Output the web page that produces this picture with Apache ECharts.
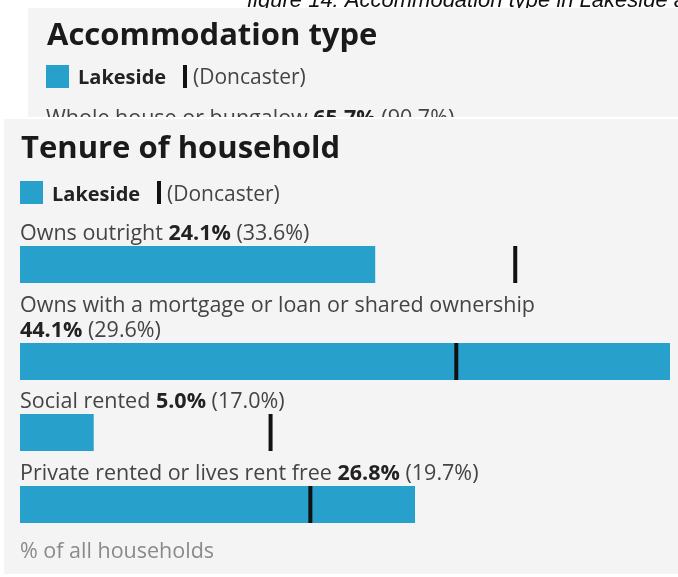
<!DOCTYPE html>
<html>
<head>
<meta charset="utf-8">
<script src="https://cdn.jsdelivr.net/npm/echarts@6/dist/echarts.min.js"></script>
<style>
  html, body { margin: 0; padding: 0; background: #fff; }
  #main { width: 678px; height: 577px; }
</style>
</head>
<body>
<div id="main"></div>
<script>
// data
var categories = ['Owns outright', 'Owns with a mortgage or loan or shared ownership', 'Social rented', 'Private rented or lives rent free'];
var lakeside = [24.1, 44.1, 5.0, 26.8];
var doncaster = [33.6, 29.6, 17.0, 19.7];
var accCategories = ['Whole house or bungalow'];
var accLakeside = [65.7];
var accDoncaster = [90.7];

// layout
var barTops = [246, 343, 414, 486];
var barH = 37;
var blue = '#27a0cc';
var font = '"Open Sans", sans-serif';

var myChart = echarts.init(document.getElementById('main'));

var grids = [], xAxes = [], yAxes = [], series = [], graphics = [];
var xMax = Math.max.apply(null, lakeside);

for (var i = 0; i < categories.length; i++) {
  grids.push({ left: 20, width: 650, top: barTops[i], height: barH });
  xAxes.push({ gridIndex: i, type: 'value', min: 0, max: xMax, show: false });
  yAxes.push({ gridIndex: i, type: 'category', data: [categories[i]], show: false });
  series.push({
    type: 'bar', xAxisIndex: i, yAxisIndex: i,
    data: [lakeside[i]], barWidth: barH,
    itemStyle: { color: blue }, silent: true
  });
  series.push({
    type: 'scatter', xAxisIndex: i, yAxisIndex: i,
    data: [[doncaster[i], categories[i]]],
    symbol: 'rect', symbolSize: [4, barH],
    itemStyle: { color: '#111', opacity: 1 }, z: 5, silent: true
  });
}

function valueLabel(name, v, d, wrap) {
  return name + (wrap ? '\n' : ' ') + '{b|' + v.toFixed(1) + '%} (' + d.toFixed(1) + '%)';
}

var labelRich = { b: { font: 'bold 21.5px ' + font, fill: '#222', lineHeight: 25 } };

// back panel (accommodation type)
graphics.push({ type: 'rect', shape: { x: 28, y: 8, width: 650, height: 109 }, style: { fill: '#f4f4f4' }, z: 1 });
graphics.push({ type: 'text', z: 0, style: { text: 'figure 14: Accommodation type in Lakeside and Doncaster', x: 247, y: 1, verticalAlign: 'middle', font: 'italic 22px "Liberation Sans", Arial, sans-serif', fill: '#111' } });
graphics.push({ type: 'text', z: 2, style: { text: 'Accommodation type', x: 47, y: 36, verticalAlign: 'middle', font: 'bold 31px ' + font, fill: '#1a1a1a' } });
graphics.push({ type: 'rect', z: 2, shape: { x: 46, y: 65, width: 23, height: 23 }, style: { fill: blue } });
graphics.push({ type: 'text', z: 2, style: { text: 'Lakeside', x: 78, y: 78, verticalAlign: 'middle', font: 'bold 20px ' + font, fill: '#222' } });
graphics.push({ type: 'rect', z: 2, shape: { x: 183, y: 65, width: 4, height: 23 }, style: { fill: '#111' } });
graphics.push({ type: 'text', z: 2, style: { text: '(Doncaster)', x: 193, y: 78, verticalAlign: 'middle', font: '21px ' + font, fill: '#444' } });
graphics.push({ type: 'text', z: 2, style: { text: valueLabel(accCategories[0], accLakeside[0], accDoncaster[0], false), x: 46, y: 119, verticalAlign: 'middle', font: '21.5px ' + font, fill: '#444', rich: labelRich } });
graphics.push({ type: 'rect', z: 3, shape: { x: 0, y: 117, width: 678, height: 2 }, style: { fill: '#fff' } });

// front panel (tenure of household)
graphics.push({ type: 'rect', z: 3, shape: { x: 4, y: 119, width: 674, height: 455 }, style: { fill: '#f4f4f4' } });
graphics.push({ type: 'text', z: 4, style: { text: 'Tenure of household', x: 21, y: 149, verticalAlign: 'middle', font: 'bold 31px ' + font, fill: '#1a1a1a' } });
graphics.push({ type: 'rect', z: 4, shape: { x: 20, y: 181, width: 23, height: 23 }, style: { fill: blue } });
graphics.push({ type: 'text', z: 4, style: { text: 'Lakeside', x: 52, y: 195, verticalAlign: 'middle', font: 'bold 20px ' + font, fill: '#222' } });
graphics.push({ type: 'rect', z: 4, shape: { x: 157, y: 181, width: 4, height: 23 }, style: { fill: '#111' } });
graphics.push({ type: 'text', z: 4, style: { text: '(Doncaster)', x: 167, y: 195, verticalAlign: 'middle', font: '21px ' + font, fill: '#444' } });

for (var j = 0; j < categories.length; j++) {
  graphics.push({
    type: 'text', z: 4,
    style: {
      text: valueLabel(categories[j], lakeside[j], doncaster[j], j === 1),
      x: 20, y: barTops[j] + 0.5, verticalAlign: 'bottom',
      font: '21.5px ' + font, fill: '#444', lineHeight: 25, rich: labelRich
    }
  });
}
graphics.push({ type: 'text', z: 4, style: { text: '% of all households', x: 20, y: 552, verticalAlign: 'middle', font: '21.5px ' + font, fill: '#8a8a8a' } });

var option = {
  animation: false,
  backgroundColor: '#fff',
  grid: grids,
  xAxis: xAxes,
  yAxis: yAxes,
  graphic: { elements: graphics },
  series: series
};
// chart marks must sit on the front panel
option.series.forEach(function (s) { s.zlevel = 1; });
myChart.setOption(option);
</script>
</body>
</html>
